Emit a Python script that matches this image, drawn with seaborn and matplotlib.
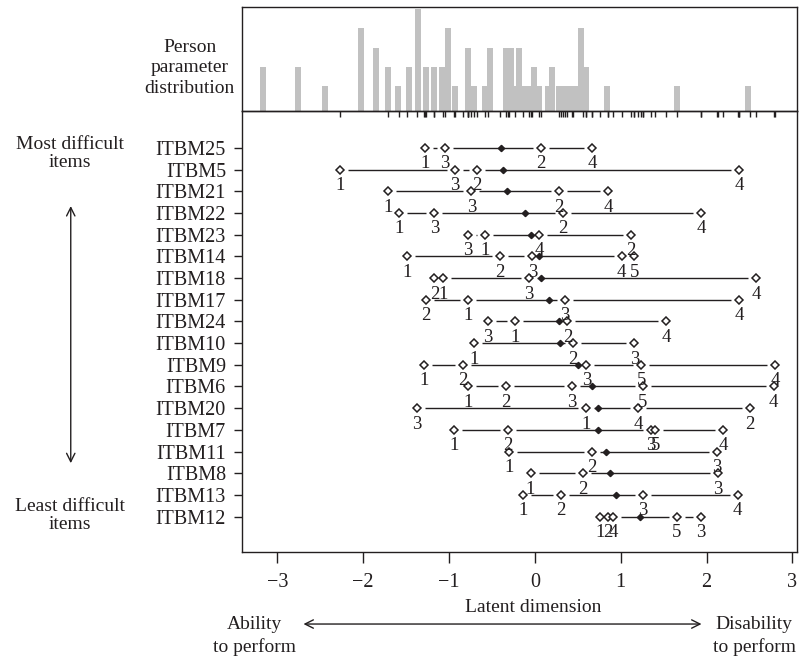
import numpy as np
import matplotlib
matplotlib.use("Agg")
import matplotlib.pyplot as plt
import seaborn as sns

# items, top (most difficult) to bottom (least difficult)
items = ["ITBM25", "ITBM5", "ITBM21", "ITBM22", "ITBM23", "ITBM14", "ITBM18",
         "ITBM17", "ITBM24", "ITBM10", "ITBM9", "ITBM6", "ITBM20", "ITBM7",
         "ITBM11", "ITBM8", "ITBM13", "ITBM12"]

# threshold locations, in threshold order 1..n
thresholds = [
    [-1.28, 0.07, -1.05, 0.67],
    [-2.27, -0.67, -0.93, 2.38],
    [-1.71, 0.28, -0.74, 0.85],
    [-1.58, 0.33, -1.17, 1.94],
    [-0.58, 1.12, -0.78, 0.05],
    [-1.49, -0.41, -0.03, 1.01, 1.16],
    [-1.07, -1.17, -0.07, 2.58],
    [-0.78, -1.27, 0.35, 2.38],
    [-0.23, 0.38, -0.55, 1.53],
    [-0.71, 0.44, 1.16],
    [-1.29, -0.84, 0.60, 2.80, 1.24],
    [-0.78, -0.34, 0.43, 2.78, 1.26],
    [0.60, 2.50, -1.37, 1.20],
    [-0.94, -0.31, 1.35, 2.19, 1.40],
    [-0.30, 0.66, 2.12],
    [-0.05, 0.56, 2.13],
    [-0.14, 0.30, 1.26, 2.36],
    [0.76, 0.85, 1.93, 0.91, 1.65],
]

# person parameter distribution (unique person estimates and their counts)
hist_theta = [-3.16, -2.76, -2.44, -2.02, -1.85, -1.71, -1.59, -1.47, -1.36,
              -1.27, -1.17, -1.08, -1.01, -0.93, -0.78, -0.71, -0.58, -0.52,
              -0.34, -0.28, -0.23, -0.18, -0.14, -0.08, -0.01, 0.05, 0.15,
              0.20, 0.28, 0.35, 0.42, 0.47, 0.54, 0.60, 0.84, 1.66, 2.48]
hist_count = [2, 2, 1, 4, 3, 2, 1, 2, 5, 2, 2, 2, 4, 1, 3, 1, 1, 3, 3, 3, 1,
              3, 1, 1, 2, 1, 1, 2, 1, 1, 1, 1, 4, 2, 1, 1, 1]

x_ticks = [-3, -2, -1, 0, 1, 2, 3]

sns.set_style("white")
plt.rcParams["font.family"] = ["Liberation Serif", "DejaVu Serif"]
ink = "#231f20"

fig = plt.figure(figsize=(8.04, 6.60), dpi=100)
ax_top = fig.add_axes([0.301, 0.832, 0.690, 0.157])
ax = fig.add_axes([0.301, 0.164, 0.690, 0.668])
ax.patch.set_visible(False)

# top panel: person parameters
ax_top.bar(hist_theta, np.array(hist_count) + 0.3, bottom=-0.3, width=0.07,
           color="#c1c1c1", linewidth=0)
all_thr = np.concatenate([np.array(t) for t in thresholds])
sns.rugplot(x=all_thr, ax=ax_top, height=-0.06, color=ink, linewidth=1,
            clip_on=False, expand_margins=False)
ax_top.set_xlim(-3.41, 3.05)
ax_top.set_ylim(-0.3, 5.1)
ax_top.set_xticks([])
ax_top.set_yticks([])
for s in ax_top.spines.values():
    s.set_color(ink)
    s.set_linewidth(1)

# bottom panel: item map
for k, thr in enumerate(thresholds):
    thr = np.array(thr)
    yy = np.full(len(thr), k)
    ax.plot([thr.min(), thr.max()], [k, k], color=ink, lw=1.0, zorder=1)
    ax.plot(thr, yy, ls="none", marker="s", ms=11.5, mfc="white", mec="none", zorder=2)
    ax.plot(thr, yy, ls="none", marker="D", ms=4.3, mfc="white", mec=ink, mew=1.1, zorder=3)
    ax.plot([thr.mean()], [k], ls="none", marker="D", ms=3.2, color=ink, zorder=4)
    for i, t in enumerate(thr):
        ax.text(t, k + 0.74, str(i + 1), ha="center", va="center",
                fontsize=13.5, color=ink, zorder=5)

ax.set_xlim(-3.41, 3.05)
ax.set_ylim(18.62, -1.705)
ax.set_yticks(range(len(items)))
ax.set_yticklabels(items)
ax.set_xticks(x_ticks)
ax.tick_params(axis="y", left=True, length=5.5, width=1, pad=6, labelsize=14.5,
               colors=ink)
ax.tick_params(axis="x", bottom=True, length=8, width=1, pad=7, labelsize=14.5,
               colors=ink)
for s in ax.spines.values():
    s.set_color(ink)
    s.set_linewidth(1)

# annotations around the map
fig.text(0.236, 0.897, "Person\nparameter\ndistribution", ha="center",
         va="center", fontsize=14, color=ink, linespacing=1.3)
fig.text(0.087, 0.767, "Most difficult\nitems", ha="center", va="center",
         fontsize=14, color=ink, linespacing=1.1)
fig.text(0.087, 0.219, "Least difficult\nitems", ha="center", va="center",
         fontsize=14, color=ink, linespacing=1.1)
fig.add_artist(matplotlib.patches.FancyArrowPatch(
    (0.088, 0.692), (0.088, 0.294), transform=fig.transFigure,
    arrowstyle="<->,head_length=6,head_width=3", color=ink, lw=1))

fig.text(0.663, 0.080, "Latent dimension", ha="center", va="center",
         fontsize=14, color=ink)
fig.add_artist(matplotlib.patches.FancyArrowPatch(
    (0.374, 0.0545), (0.876, 0.0545), transform=fig.transFigure,
    arrowstyle="<->,head_length=6,head_width=3", color=ink, lw=1))
fig.text(0.316, 0.036, "Ability\nto perform", ha="center", va="center",
         fontsize=14, color=ink, linespacing=1.4)
fig.text(0.938, 0.036, "Disability\nto perform", ha="center", va="center",
         fontsize=14, color=ink, linespacing=1.4)

fig.savefig("out.png", dpi=100)
